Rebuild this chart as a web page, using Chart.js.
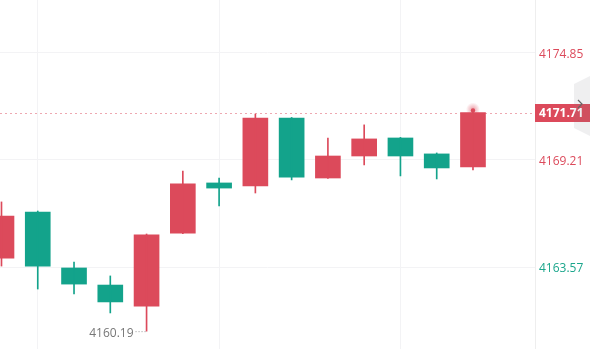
<!DOCTYPE html>
<html>
<head>
<meta charset="utf-8">
<script src="https://cdn.jsdelivr.net/npm/chart.js@4"></script>
<style>
  html, body { margin: 0; padding: 0; background: #fff; }
  #wrap { width: 590px; height: 349px; position: relative; }
</style>
</head>
<body>
<div id="wrap"><canvas id="myChart" width="590" height="349"></canvas></div>
<script>
// candles, oldest first (index 0 is cut off at the left edge)
var idx    = [0, 1, 2, 3, 4, 5, 6, 7, 8, 9, 10, 11, 12, 13];
var opens  = [4164.04, 4166.47, 4163.52, 4162.62, 4161.51, 4165.36, 4168.00, 4167.84, 4171.42, 4168.26, 4169.42, 4170.37, 4169.53, 4168.84];
var highs  = [4167.00, 4166.52, 4163.83, 4163.10, 4165.31, 4168.63, 4168.26, 4171.63, 4171.45, 4170.37, 4171.06, 4170.40, 4169.58, 4171.75];
var lows   = [4163.62, 4162.41, 4162.15, 4161.15, 4160.19, 4165.33, 4166.79, 4167.47, 4168.16, 4168.24, 4168.95, 4168.37, 4168.21, 4168.68];
var closes = [4166.26, 4163.62, 4162.67, 4161.73, 4165.26, 4167.95, 4167.73, 4171.42, 4168.31, 4169.42, 4170.32, 4169.42, 4168.79, 4171.71];

var yTicks = [4163.57, 4169.21, 4174.85];
var yTickColors = ['#1ba68c', '#dc4a5b', '#dc4a5b'];
var xGridAt = [1, 6, 11];

var upColor = '#dc4a5b';
var downColor = '#13a38b';
var candleColors = [];
for (var i = 0; i < idx.length; i++) {
  candleColors.push(closes[i] >= opens[i] ? upColor : downColor);
}

var wicks = [], bodies = [];
for (var i = 0; i < idx.length; i++) {
  wicks.push({x: idx[i], y: [lows[i], highs[i]]});
  bodies.push({x: idx[i], y: [opens[i], closes[i]]});
}

var lastIdx = idx.length - 1;
var lowIdx = 4;

var decorations = {
  id: 'decorations',
  beforeDatasetsDraw: function(chart) {
    var ctx = chart.ctx, area = chart.chartArea, ys = chart.scales.y;
    var py = Math.round(ys.getPixelForValue(closes[lastIdx])) + 0.5;
    ctx.save();
    ctx.strokeStyle = 'rgba(226,110,125,0.6)';
    ctx.lineWidth = 1;
    ctx.setLineDash([2, 3]);
    ctx.beginPath();
    ctx.moveTo(area.left, py);
    ctx.lineTo(area.right, py);
    ctx.stroke();
    ctx.restore();
  },
  afterDatasetsDraw: function(chart) {
    var ctx = chart.ctx, area = chart.chartArea, ys = chart.scales.y, xs = chart.scales.x;
    ctx.save();
    // last price glow
    var lx = xs.getPixelForValue(idx[lastIdx]);
    var ly = ys.getPixelForValue(closes[lastIdx]) - 3;
    var g = ctx.createRadialGradient(lx, ly, 0, lx, ly, 7);
    g.addColorStop(0, 'rgba(220,74,91,0.55)');
    g.addColorStop(1, 'rgba(220,74,91,0)');
    ctx.fillStyle = g;
    ctx.beginPath(); ctx.arc(lx, ly, 7, 0, Math.PI * 2); ctx.fill();
    ctx.fillStyle = upColor;
    ctx.beginPath(); ctx.arc(lx, ly + 1, 2.2, 0, Math.PI * 2); ctx.fill();

    // low label
    var mx = xs.getPixelForValue(idx[lowIdx]);
    var my = ys.getPixelForValue(lows[lowIdx]);
    ctx.font = '12px "Open Sans"';
    ctx.fillStyle = '#777';
    ctx.textAlign = 'right';
    ctx.textBaseline = 'middle';
    ctx.fillText(lows[lowIdx].toFixed(2), mx - 13, my + 2);
    ctx.strokeStyle = '#999';
    ctx.setLineDash([1, 2]);
    ctx.beginPath();
    ctx.moveTo(mx - 11, my + 0.5);
    ctx.lineTo(mx - 1, my + 0.5);
    ctx.stroke();
    ctx.setLineDash([]);

    // current price tag
    var py = ys.getPixelForValue(closes[lastIdx]);
    ctx.fillStyle = upColor;
    ctx.fillRect(area.right, Math.round(py) - 9, 55, 18);
    ctx.fillStyle = '#fff';
    ctx.font = 'bold 12px "Open Sans"';
    ctx.textAlign = 'left';
    ctx.fillText(closes[lastIdx].toFixed(2), area.right + 4, py + 1);

    // collapse tab at right edge
    ctx.fillStyle = 'rgba(120,120,130,0.12)';
    ctx.beginPath();
    ctx.moveTo(590, 76);
    ctx.lineTo(574, 84);
    ctx.lineTo(574, 128);
    ctx.lineTo(590, 136);
    ctx.closePath();
    ctx.fill();
    ctx.strokeStyle = '#666';
    ctx.lineWidth = 1.2;
    ctx.beginPath();
    ctx.moveTo(578, 100);
    ctx.lineTo(582, 104);
    ctx.lineTo(578, 108);
    ctx.stroke();
    ctx.restore();
  }
};

var myChart = document.getElementById('myChart').getContext('2d');
var chart = new Chart(myChart, {
  type: 'bar',
  data: {
    datasets: [{
      label: 'wick',
      data: wicks,
      backgroundColor: candleColors,
      barThickness: 1,
      grouped: false,
      borderWidth: 0
    }, {
      label: 'body',
      data: bodies,
      backgroundColor: candleColors,
      barThickness: 25,
      grouped: false,
      borderWidth: 0,
      minBarLength: 1
    }]
  },
  plugins: [decorations],
  options: {
    responsive: false,
    animation: false,
    layout: { padding: 0 },
    plugins: { legend: { display: false }, tooltip: { enabled: false } },
    scales: {
      x: {
        type: 'linear',
        offset: false,
        min: -0.041,
        max: 14.71,
        afterBuildTicks: function(scale) {
          scale.ticks = xGridAt.map(function(v) { return {value: v}; });
        },
        afterFit: function(scale) { scale.height = 0; scale.paddingLeft = 0; scale.paddingRight = 0; },
        ticks: { display: false },
        grid: { color: '#f3f3f5', drawTicks: false, offset: false },
        border: { display: false }
      },
      y: {
        position: 'right',
        min: 4159.25,
        max: 4177.64,
        afterBuildTicks: function(scale) {
          scale.ticks = yTicks.map(function(v) { return {value: v}; });
        },
        afterFit: function(scale) { scale.width = 55; scale.paddingTop = 0; scale.paddingBottom = 0; },
        ticks: {
          padding: 4,
          labelOffset: 2,
          font: { family: '"Open Sans"', size: 12 },
          color: function(c) { return yTickColors[c.index]; },
          callback: function(v) { return Number(v).toFixed(2); }
        },
        grid: { color: '#f3f3f5', drawTicks: false },
        border: { color: '#eeeeee' }
      }
    }
  }
});
</script>
</body>
</html>
